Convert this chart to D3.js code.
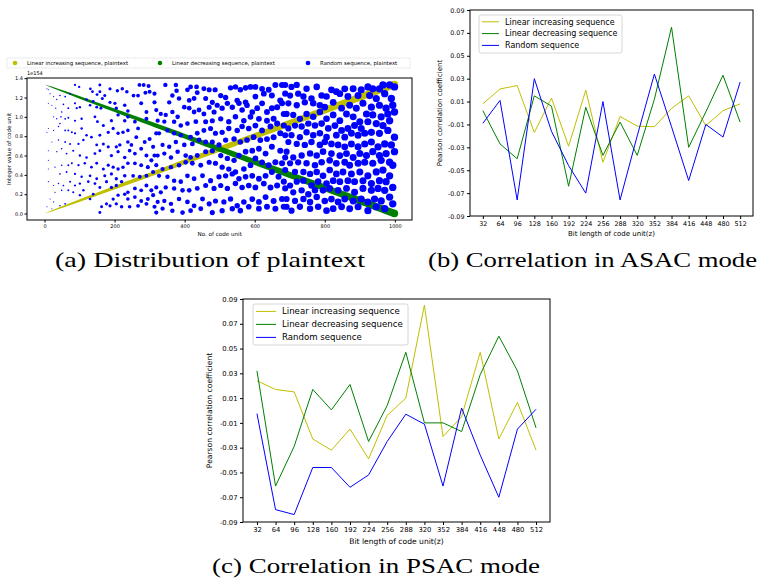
<!DOCTYPE html>
<html>
<head>
<meta charset="utf-8">
<script src="https://cdn.jsdelivr.net/npm/d3@7"></script>
<style>
  body { margin: 0; background: #fff; }
  svg text { font-family: "DejaVu Sans", sans-serif; fill: #000; }
  .caption { font-family: "Liberation Serif", serif; }
</style>
</head>
<body>
<svg width="758" height="583"></svg>
<script>
// ---------------------------------------------------------------------------
// data
// ---------------------------------------------------------------------------
const bitLengths = [32, 64, 96, 128, 160, 192, 224, 256, 288, 320, 352, 384, 416, 448, 480, 512];
const corrTicks = [-0.09, -0.07, -0.05, -0.03, -0.01, 0.01, 0.03, 0.05, 0.07, 0.09];
const seriesNames = ["Linear increasing sequence", "Linear decreasing sequence", "Random sequence"];
const seriesColors = ["#bfbf00", "#008000", "#0000ff"];

// (b) ASAC mode
const asacIncreasing = [0.008, 0.021, 0.024, -0.017, 0.013, -0.029, 0.020, -0.043, -0.003, -0.0115, -0.012, 0.004, 0.015, -0.011, 0.002, 0.008];
const asacDecreasing = [0.002, -0.027, -0.040, 0.015, 0.006, -0.064, 0.005, -0.037, -0.008, -0.037, 0.012, 0.075, -0.030, 0.001, 0.033, -0.008];
const asacRandom = [-0.009, 0.011, -0.076, 0.030, -0.016, -0.046, -0.070, 0.010, -0.076, -0.020, 0.034, -0.012, -0.059, -0.010, -0.021, 0.027];

// (c) PSAC mode
const psacIncreasing = [0.024, 0.017, 0.015, -0.023, -0.032, -0.015, -0.039, -0.004, 0.010, 0.085, -0.021, -0.005, 0.047, -0.023, 0.0065, -0.032];
const psacDecreasing = [0.032, -0.061, -0.029, 0.017, 0.0005, 0.021, -0.025, 0.004, 0.047, -0.010, -0.010, -0.017, 0.029, 0.060, 0.032, -0.014];
const psacRandom = [-0.0025, -0.080, -0.084, -0.046, -0.046, -0.062, -0.052, -0.025, -0.003, -0.011, -0.061, 0.002, -0.036, -0.070, -0.015, 0.001];

// (a) plaintext distribution (values in units of 1e154)
const plainNames = ["Linear increasing sequence, plaintext", "Linear decreasing sequence, plaintext", "Random sequence, plaintext"];
const plainTicksX = [0, 200, 400, 600, 800, 1000];
const plainTicksY = [0.0, 0.2, 0.4, 0.6, 0.8, 1.0, 1.2, 1.4];
const increasingEnds = [[0, 0], [999, 1.335]];
const decreasingEnds = [[0, 1.335], [999, 0]];
const randomPoints = [
  [87,1.33],[99,1.31],[131,1.29],[158,1.33],[187,1.29],[208,1.27],[222,1.29],[235,1.26],[271,1.33],[283,1.33],[297,1.32],
  [254,1.22],[267,1.22],[288,1.25],[300,1.26],[314,1.24],[137,1.26],[150,1.23],[158,1.26],[165,1.19],[172,1.22],[139,1.16],
  [120,1.18],[130,1.12],[149,1.10],[161,1.09],[187,1.15],[201,1.14],[205,1.09],[229,1.12],[238,1.06],[276,1.14],[291,1.05],
  [314,1.15],[319,1.07],[101,1.10],[92,1.09],[87,1.14],[68,1.09],[54,1.13],[49,1.05],[35,1.18],[26,1.21],[16,1.24],[11,1.28],
  [7,1.29],[21,1.12],[11,1.14],[32,1.09],[44,1.22],[59,1.21],[73,1.24],
  [26,1.00],[35,0.98],[47,1.00],[59,0.98],[68,0.99],[44,0.93],[87,0.96],[106,0.98],[144,1.00],[151,0.95],[168,0.91],[191,0.96],
  [210,1.02],[229,0.96],[238,1.00],[258,0.95],[291,0.98],[267,0.88],[262,0.79],[238,0.86],[224,0.84],[210,0.83],[196,0.88],
  [182,0.84],[158,0.81],[134,0.79],[120,0.81],[106,0.88],[87,0.83],[78,0.84],[68,0.86],[59,0.86],[40,0.90],[26,0.86],[11,0.88],
  [7,0.84],[21,0.74],[40,0.76],[59,0.74],[73,0.72],[97,0.72],[111,0.76],[149,0.71],[168,0.72],[182,0.69],[205,0.69],[215,0.71],
  [238,0.74],[248,0.71],[286,0.74],[300,0.77],[319,0.83],[310,0.69],[314,0.60],
  [11,0.65],[35,0.64],[49,0.67],[63,0.62],[82,0.65],[101,0.60],[120,0.58],[144,0.62],[158,0.65],[191,0.60],[210,0.64],[229,0.58],
  [243,0.65],[258,0.62],[276,0.67],[291,0.60],[305,0.55],[319,0.50],[295,0.48],[276,0.50],[258,0.52],[238,0.52],[224,0.48],
  [210,0.46],[196,0.48],[182,0.50],[168,0.46],[149,0.52],[134,0.48],[115,0.52],[97,0.50],[78,0.52],[68,0.50],[49,0.50],[30,0.48],
  [11,0.55],[11,0.46],[44,0.41],[63,0.43],[87,0.41],[106,0.38],[130,0.39],[149,0.36],[172,0.39],[191,0.41],[205,0.36],[229,0.39],
  [253,0.39],[272,0.38],[291,0.39],[310,0.43],
  [11,0.33],[26,0.29],[40,0.31],[54,0.29],[73,0.33],[87,0.29],[101,0.31],[111,0.24],[125,0.33],[144,0.31],[158,0.27],[177,0.33],
  [191,0.27],[205,0.29],[220,0.33],[229,0.20],[238,0.22],[258,0.26],[276,0.24],[291,0.29],[305,0.24],[319,0.27],[310,0.19],
  [295,0.15],[276,0.13],[258,0.17],[238,0.15],[210,0.19],[196,0.15],[177,0.10],[163,0.07],[187,0.08],[205,0.10],[220,0.07],
  [243,0.07],[267,0.08],[291,0.10],[314,0.07],[319,0.01],[158,0.01],[139,0.20],[130,0.15],[101,0.19],[82,0.22],[68,0.24],
  [49,0.24],[30,0.22],[16,0.15],[26,0.12],[44,0.08],[59,0.10],[21,0.05],[7,0.07],
  [345,1.33],[375,1.33],[377,1.27],[408,1.28],[417,1.31],[434,1.31],[436,1.25],[455,1.29],[470,1.28],[487,1.28],[503,1.22],
  [531,1.30],[545,1.31],[559,1.28],[574,1.30],[588,1.31],[602,1.31],[621,1.29],[640,1.28],[659,1.33],[678,1.33],[365,1.22],
  [356,1.15],[384,1.19],[413,1.17],[427,1.19],[460,1.19],[479,1.15],[517,1.20],[550,1.17],[574,1.15],[602,1.21],[626,1.24],
  [649,1.22],[673,1.17],[687,1.24],
  [332,1.03],[346,1.02],[365,1.05],[380,1.00],[399,1.10],[413,1.09],[427,1.05],[441,1.07],[455,1.03],[470,1.10],[484,1.05],
  [493,1.12],[507,1.09],[522,1.14],[536,1.10],[555,1.14],[564,1.07],[578,1.12],[593,1.05],[607,1.09],[621,1.14],[635,1.05],
  [649,1.09],[664,1.10],[678,1.14],[683,1.03],[654,0.98],[635,0.96],[612,0.98],[588,1.00],[569,0.96],[545,1.00],[526,0.95],
  [503,0.98],[479,0.96],[460,0.95],[432,0.95],[408,0.93],[389,0.91],[370,0.95],[342,0.95],[323,0.96],
  [327,0.83],[351,0.86],[370,0.83],[389,0.81],[417,0.79],[436,0.83],[455,0.86],[474,0.88],[488,0.83],[507,0.84],[526,0.88],
  [550,0.86],[564,0.90],[583,0.88],[602,0.91],[621,0.86],[645,0.90],[664,0.93],[683,0.91],[673,0.83],[654,0.79],[635,0.77],
  [616,0.76],[597,0.79],[578,0.76],[559,0.74],[541,0.77],[517,0.76],[498,0.71],[479,0.74],[460,0.74],[441,0.76],[422,0.72],
  [399,0.71],[375,0.74],[356,0.69],[337,0.71],
  [323,0.60],[342,0.62],[361,0.58],[380,0.64],[403,0.60],[417,0.58],[436,0.60],[460,0.64],[479,0.65],[503,0.60],[522,0.57],
  [541,0.55],[555,0.60],[574,0.64],[593,0.65],[612,0.67],[631,0.62],[649,0.69],[673,0.65],[687,0.58],[678,0.52],[659,0.53],
  [640,0.50],[621,0.53],[602,0.57],[588,0.50],[569,0.46],[545,0.43],[526,0.46],[507,0.48],[488,0.52],[470,0.53],[446,0.50],
  [422,0.52],[403,0.53],[384,0.50],[361,0.48],[337,0.46],
  [327,0.39],[351,0.38],[370,0.34],[389,0.33],[408,0.39],[427,0.36],[451,0.39],[474,0.34],[498,0.38],[517,0.39],[536,0.41],
  [555,0.36],[574,0.38],[593,0.39],[612,0.36],[631,0.39],[649,0.43],[668,0.38],[683,0.33],[664,0.29],[645,0.27],[626,0.31],
  [602,0.27],[583,0.29],[564,0.27],[545,0.31],[522,0.26],[503,0.29],[484,0.26],[460,0.29],[436,0.26],[413,0.24],[394,0.24],
  [370,0.26],[346,0.27],[332,0.22],
  [323,0.12],[342,0.13],[361,0.10],[384,0.15],[408,0.12],[427,0.08],[451,0.15],[470,0.10],[488,0.13],[512,0.12],[531,0.15],
  [550,0.08],[569,0.12],[593,0.15],[612,0.12],[631,0.17],[654,0.13],[678,0.15],[683,0.07],[659,0.05],[635,0.07],[612,0.05],
  [583,0.07],[559,0.03],[536,0.05],[507,0.03],[479,0.01],[446,0.05],[417,0.03],[394,0.01],[365,0.03],[337,0.05],
  [687,1.33],[705,1.31],[720,1.33],[748,1.29],[777,1.31],[819,1.28],[833,1.26],[857,1.29],[881,1.29],[904,1.28],[923,1.31],
  [937,1.29],[956,1.29],[966,1.33],[985,1.33],[999,1.31],[701,1.22],[724,1.24],[739,1.21],[762,1.19],[791,1.22],[805,1.21],
  [843,1.24],[866,1.21],[895,1.22],[928,1.22],[947,1.19],[971,1.24],[990,1.19],[696,1.14],[720,1.12],[743,1.15],[767,1.14],
  [786,1.12],[800,1.10],[824,1.15],[848,1.09],[871,1.12],[890,1.09],[909,1.14],[933,1.10],[956,1.12],[975,1.09],[994,1.12],
  [999,1.05],
  [691,1.03],[710,1.02],[729,0.98],[748,1.03],[767,1.00],[786,1.05],[805,0.98],[824,1.02],[843,0.96],[862,1.03],[881,1.00],
  [900,0.95],[919,1.03],[937,1.02],[961,1.00],[980,1.03],[985,0.96],[966,0.91],[947,0.93],[923,0.95],[904,0.88],[885,0.91],
  [866,0.88],[848,0.86],[829,0.91],[810,0.88],[791,0.93],[772,0.91],[753,0.93],[734,0.90],[715,0.91],[696,0.88],[687,0.81],
  [705,0.81],[729,0.79],[748,0.84],[767,0.81],[786,0.83],[805,0.79],[833,0.81],[857,0.79],[876,0.83],[895,0.81],[914,0.83],
  [933,0.84],[956,0.83],[980,0.86],[999,0.79],
  [696,0.74],[720,0.72],[743,0.71],[762,0.74],[786,0.71],[800,0.74],[819,0.72],[838,0.71],[857,0.69],[876,0.72],[895,0.69],
  [914,0.72],[933,0.74],[952,0.69],[971,0.72],[990,0.71],[999,0.64],[975,0.62],[956,0.60],[937,0.64],[919,0.60],[900,0.62],
  [881,0.58],[862,0.62],[843,0.60],[819,0.62],[795,0.64],[777,0.60],[758,0.62],[734,0.60],[710,0.58],[691,0.64],[701,0.52],
  [724,0.53],[748,0.52],[772,0.50],[791,0.53],[814,0.55],[833,0.52],[857,0.53],[871,0.50],[895,0.52],[914,0.53],[937,0.52],
  [961,0.55],[985,0.53],[994,0.50],
  [687,0.45],[715,0.43],[739,0.43],[758,0.41],[777,0.43],[795,0.39],[814,0.45],[833,0.41],[852,0.43],[876,0.41],[900,0.43],
  [923,0.39],[947,0.43],[966,0.45],[985,0.39],[975,0.33],[956,0.34],[933,0.31],[909,0.34],[885,0.33],[866,0.34],[843,0.33],
  [824,0.34],[805,0.31],[781,0.33],[762,0.29],[739,0.34],[720,0.33],[701,0.29],[687,0.26],[710,0.22],[734,0.24],[753,0.20],
  [772,0.24],[795,0.24],[814,0.26],[838,0.24],[862,0.26],[885,0.22],[909,0.26],[933,0.24],[952,0.26],[971,0.24],[994,0.27],
  [691,0.15],[715,0.13],[739,0.15],[758,0.12],[777,0.17],[800,0.13],[819,0.15],[838,0.12],[857,0.15],[881,0.13],[904,0.15],
  [923,0.12],[942,0.15],[961,0.13],[985,0.17],[994,0.10],[971,0.05],[947,0.07],[923,0.03],[895,0.07],[871,0.05],[848,0.07],
  [824,0.05],[805,0.03],[781,0.07],[758,0.05],[729,0.07],[705,0.03],[691,0.07]
];

const svg = d3.select("svg");

// ===========================================================================
// (a) Distribution of plaintext
// ===========================================================================
const pa = { left: 27, top: 78, width: 385, height: 142 };
const ga = svg.append("g").attr("transform", `translate(${pa.left},${pa.top})`);

const xa = d3.scaleLinear().domain([-49.95, 1048.95]).range([0, pa.width]);
const ya = d3.scaleLinear().domain([-0.0668, 1.4018]).range([pa.height, 0]);
// marker area grows with the code unit index
const size = d3.scaleSqrt().domain([0, 1000]).range([0, 3.7]);

// the two linear series are dense rows of growing dots -> tapered band
function band(ends, color) {
  const [p0, p1] = ends.map((d) => [xa(d[0]), ya(d[1])]);
  const dx = p1[0] - p0[0], dy = p1[1] - p0[1];
  const len = Math.hypot(dx, dy);
  const nx = -dy / len, ny = dx / len;
  const ts = d3.range(0, 1.0001, 0.02);
  const side = (s) => ts.map((t) => {
    const r = size(ends[0][0] + t * (ends[1][0] - ends[0][0]));
    return [p0[0] + t * dx + s * nx * r, p0[1] + t * dy + s * ny * r];
  });
  const outline = side(1).concat(side(-1).reverse());
  ga.append("path").attr("d", d3.line()(outline) + "Z").attr("fill", color);
  ga.append("circle").attr("cx", p1[0]).attr("cy", p1[1]).attr("r", size(ends[1][0])).attr("fill", color);
}
band(increasingEnds, seriesColors[0]);
band(decreasingEnds, seriesColors[1]);

ga.append("g")
  .selectAll("circle")
  .data(randomPoints)
  .join("circle")
  .attr("cx", (d) => xa(d[0]))
  .attr("cy", (d) => ya(d[1]))
  .attr("r", (d) => Math.max(0.55, size(d[0])))
  .attr("fill", seriesColors[2]);

ga.append("rect")
  .attr("width", pa.width).attr("height", pa.height)
  .attr("fill", "none").attr("stroke", "#000").attr("stroke-width", 1);

const axA = ga.append("g").attr("transform", `translate(0,${pa.height})`)
  .call(d3.axisBottom(xa).tickValues(plainTicksX).tickFormat(d3.format("d")).tickSize(2.5).tickPadding(2));
const ayA = ga.append("g")
  .call(d3.axisLeft(ya).tickValues(plainTicksY).tickFormat(d3.format(".1f")).tickSize(2.5).tickPadding(1.5));
[axA, ayA].forEach((a) => {
  a.select(".domain").remove();
  a.selectAll("text").style("font-size", "5px").style("font-family", "DejaVu Sans");
});

ga.append("text").attr("x", 0).attr("y", -3).style("font-size", "5px").text("1e154");
ga.append("text").attr("x", xa(500)).attr("y", pa.height + 16)
  .attr("text-anchor", "middle").style("font-size", "5.6px").text("No. of code unit");
ga.append("text").attr("transform", `translate(-16,${pa.height / 2}) rotate(-90)`)
  .attr("text-anchor", "middle").style("font-size", "5.6px").text("Integer value of code unit");

// legend above the plot
const legA = svg.append("g").attr("transform", "translate(7,58)");
legA.append("rect").attr("width", 403).attr("height", 10)
  .attr("fill", "#fff").attr("stroke", "#ddd").attr("stroke-width", 0.6);
const legAX = [8, 153, 301];
plainNames.forEach((name, i) => {
  legA.append("circle").attr("cx", legAX[i]).attr("cy", 5).attr("r", 2.3).attr("fill", seriesColors[i]);
  legA.append("text").attr("x", legAX[i] + 12).attr("y", 7).style("font-size", "5.4px").text(name);
});

// ===========================================================================
// (b), (c) correlation line charts
// ===========================================================================
function corrChart(box, series, opts) {
  const g = svg.append("g").attr("transform", `translate(${box.left},${box.top})`);
  const x = d3.scaleLinear().domain([8, 536]).range([0, box.width]);
  const y = d3.scaleLinear().domain([-0.09, 0.09]).range([box.height, 0]);

  const line = d3.line().x((d, i) => x(bitLengths[i])).y((d) => y(d));
  series.forEach((s, i) => {
    g.append("path").datum(s).attr("d", line)
      .attr("fill", "none").attr("stroke", seriesColors[i]).attr("stroke-width", 1);
  });

  g.append("rect").attr("width", box.width).attr("height", box.height)
    .attr("fill", "none").attr("stroke", "#000").attr("stroke-width", 1);

  const ax = g.append("g").attr("transform", `translate(0,${box.height})`)
    .call(d3.axisBottom(x).tickValues(bitLengths).tickSize(3).tickPadding(2.5));
  const ay = g.append("g")
    .call(d3.axisLeft(y).tickValues(corrTicks).tickFormat((v) => d3.format(".2f")(v).replace("\u2212", "-")).tickSize(3).tickPadding(2.5));
  [ax, ay].forEach((a) => {
    a.select(".domain").remove();
    a.selectAll("text").style("font-size", opts.tick + "px").style("font-family", "DejaVu Sans");
  });

  g.append("text").attr("x", x(272)).attr("y", box.height + opts.xlab)
    .attr("text-anchor", "middle").style("font-size", opts.label + "px").text("Bit length of code unit(z)");
  g.append("text").attr("transform", `translate(${-opts.ylab},${box.height / 2}) rotate(-90)`)
    .attr("text-anchor", "middle").style("font-size", opts.label + "px").text("Pearson correlation coefficient");

  const leg = g.append("g").attr("transform", `translate(${opts.leg[0]},${opts.leg[1]})`);
  leg.append("rect").attr("width", opts.leg[2]).attr("height", opts.leg[3]).attr("rx", 2)
    .attr("fill", "#fff").attr("fill-opacity", 0.8).attr("stroke", "#ccc").attr("stroke-width", 0.8);
  seriesNames.forEach((name, i) => {
    const yy = opts.legRow * (i + 0.5) + 0.9;
    leg.append("line").attr("x1", 3).attr("x2", 3 + opts.legLine).attr("y1", yy).attr("y2", yy)
      .attr("stroke", seriesColors[i]).attr("stroke-width", 1);
    leg.append("text").attr("x", opts.legLine + 9).attr("y", yy).attr("dy", "0.35em")
      .style("font-size", opts.legFont + "px").text(name);
  });
}

corrChart({ left: 470, top: 10, width: 283, height: 206 },
  [asacIncreasing, asacDecreasing, asacRandom],
  { tick: 6.4, label: 7, xlab: 20, ylab: 28, leg: [9, 5, 143, 38], legRow: 11.8, legLine: 17, legFont: 8 });

corrChart({ left: 243, top: 299, width: 307, height: 223 },
  [psacIncreasing, psacDecreasing, psacRandom],
  { tick: 6.8, label: 7.6, xlab: 22, ylab: 31, leg: [10, 5, 155, 41], legRow: 13, legLine: 20, legFont: 8.6 });

// ===========================================================================
// captions
// ===========================================================================
const captions = [
  ["(a) Distribution of plaintext", 55, 267, 310],
  ["(b) Correlation in ASAC mode", 428, 267, 329],
  ["(c) Correlation in PSAC mode", 212, 573, 328]
];
captions.forEach(([t, x, y, w]) => {
  svg.append("text").attr("class", "caption").attr("x", x).attr("y", y)
    .attr("textLength", w).attr("lengthAdjust", "spacingAndGlyphs")
    .style("font-size", "21px").text(t);
});
</script>
</body>
</html>
